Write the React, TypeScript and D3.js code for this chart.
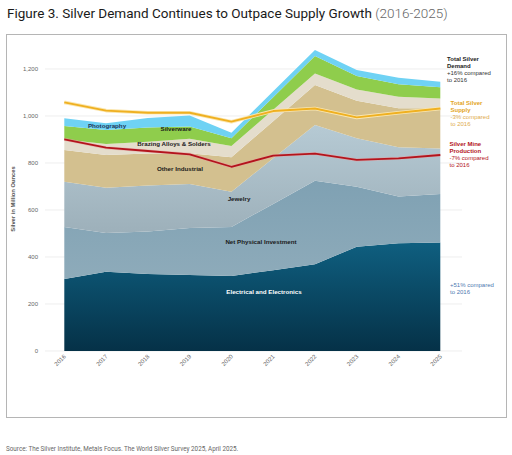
import React from "react";
import * as d3 from "d3";

const years = [2016, 2017, 2018, 2019, 2020, 2021, 2022, 2023, 2024, 2025];
const electrical = [306, 337, 328, 323, 319, 344, 369, 444, 458, 462];
const netPhysical = [222, 165, 180, 200, 209, 282, 356, 255, 199, 206];
const jewelry = [192, 193, 196, 188, 150, 194, 237, 206, 210, 194];
const otherIndustrial = [135, 139, 136, 130, 146, 158, 170, 160, 166, 171];
const brazing = [45, 47, 50, 62, 48, 49, 49, 48, 49, 42];
const silverware = [57, 59, 61, 52, 33, 53, 74, 57, 53, 47];
const photography = [33, 29, 40, 47, 24, 25, 26, 26, 28, 24];
const totalSupply = [1058, 1023, 1014, 1014, 976, 1021, 1032, 994, 1014, 1032];
const mineProduction = [901, 865, 851, 837, 784, 831, 840, 813, 820, 834];
const yTicks = [0, 200, 400, 600, 800, 1000, 1200];

const seriesKeys = [
  "Electrical and Electronics",
  "Net Physical Investment",
  "Jewelry",
  "Other Industrial",
  "Brazing Alloys & Solders",
  "Silverware",
  "Photography",
];
const seriesValues = [electrical, netPhysical, jewelry, otherIndustrial, brazing, silverware, photography];
const fills = [
  "url(#gElec)",
  "url(#gNpi)",
  "url(#gJew)",
  "#d3c08f",
  "#e4ddcc",
  "#8fcd4c",
  "#6fd2f4",
];

export default function App() {
  const x = d3.scaleLinear().domain([2016, 2025]).range([64.3, 440.3]);
  const y = d3.scaleLinear().domain([0, 1200]).range([351, 69]);

  const rows = years.map((yr, i) => {
    const r: any = { year: yr };
    seriesKeys.forEach((k, j) => (r[k] = seriesValues[j][i]));
    return r;
  });
  const stacked = d3.stack<any>().keys(seriesKeys)(rows);
  const area = d3
    .area<any>()
    .x((d) => x(d.data.year))
    .y0((d) => y(d[0]))
    .y1((d) => y(d[1]));
  const line = d3
    .line<number>()
    .x((_, i) => x(years[i]))
    .y((d) => y(d));

  const font = "Liberation Sans, Arial, sans-serif";
  const areaLabels = [
    { t: "Photography", x: 107, y: 128, c: "#1d3557", w: "bold" },
    { t: "Silverware", x: 176, y: 131, c: "#1a1a1a", w: "bold" },
    { t: "Brazing Alloys & Solders", x: 174, y: 146, c: "#1a1a1a", w: "bold" },
    { t: "Other Industrial", x: 180, y: 171, c: "#1a1a1a", w: "bold" },
    { t: "Jewelry", x: 239, y: 201, c: "#1a1a1a", w: "bold" },
    { t: "Net Physical Investment", x: 261, y: 244, c: "#1a1a1a", w: "bold" },
    { t: "Electrical and Electronics", x: 264, y: 294, c: "#ffffff", w: "bold" },
  ];

  const notes = [
    { x: 447, y: 61, lines: [["Total Silver", "bold", "#222"], ["Demand", "bold", "#222"], ["+16% compared", "normal", "#333"], ["to 2016", "normal", "#333"]] },
    { x: 450.5, y: 104.5, lines: [["Total Silver", "bold", "#e3a51e"], ["Supply", "bold", "#e3a51e"], ["-3% compared", "normal", "#e0ac4e"], ["to 2016", "normal", "#e0ac4e"]] },
    { x: 449.5, y: 145.5, lines: [["Silver Mine", "bold", "#b3141c"], ["Production", "bold", "#b3141c"], ["-7% compared", "normal", "#b3141c"], ["to 2016", "normal", "#b3141c"]] },
    { x: 450, y: 287, lines: [["+51% compared", "normal", "#5079b0"], ["to 2016", "normal", "#5079b0"]] },
  ];

  return (
    <svg width={512} height={455} style={{ position: "absolute", left: 0, top: 0, background: "#fff" }}>
      <defs>
        <linearGradient id="gElec" x1="0" y1="0" x2="0" y2="1">
          <stop offset="0" stopColor="#0f5f80" />
          <stop offset="1" stopColor="#053147" />
        </linearGradient>
        <linearGradient id="gNpi" x1="0" y1="0" x2="0" y2="1">
          <stop offset="0" stopColor="#7fa1b3" />
          <stop offset="1" stopColor="#8eabba" />
        </linearGradient>
        <linearGradient id="gJew" x1="0" y1="0" x2="0" y2="1">
          <stop offset="0" stopColor="#b6cad4" />
          <stop offset="1" stopColor="#9db0ba" />
        </linearGradient>
      </defs>
      <text x={7} y={18} fontFamily="Roboto, sans-serif" fontSize={13.5} fill="#1a1a1a" fontWeight={400}>
        Figure 3. Silver Demand Continues to Outpace Supply Growth
        <tspan fill="#666" fontWeight={300}> (2016-2025)</tspan>
      </text>
      <rect x={6.5} y={34.5} width={500} height={383} fill="#fff" stroke="#b5b5b5" strokeWidth={1} />
      {yTicks.map((t) => (
        <g key={t}>
          <line x1={45} x2={462} y1={y(t)} y2={y(t)} stroke="#e6e6e6" strokeWidth={0.7} />
          <text x={38} y={y(t) + 2} textAnchor="end" fontFamily={font} fontSize={6} fill="#666">
            {d3.format(",")(t)}
          </text>
        </g>
      ))}
      <text
        transform={`translate(15,199) rotate(-90)`}
        textAnchor="middle"
        fontFamily={font}
        fontSize={5.8}
        fill="#555"
        fontWeight="bold"
      >
        Silver in Million Ounces
      </text>
      {stacked.map((s, i) => (
        <path key={s.key} d={area(s) || ""} fill={fills[i]} />
      ))}
      <path d={line(totalSupply) || ""} fill="none" stroke="#fbe7b0" strokeWidth={3.6} strokeLinejoin="round" />
      <path d={line(totalSupply) || ""} fill="none" stroke="#efb021" strokeWidth={1.9} strokeLinejoin="round" />
      <path d={line(mineProduction) || ""} fill="none" stroke="#e8a0a0" strokeWidth={3} strokeLinejoin="round" opacity={0.6} />
      <path d={line(mineProduction) || ""} fill="none" stroke="#b3141c" strokeWidth={1.8} strokeLinejoin="round" />
      {years.map((yr) => (
        <text
          key={yr}
          transform={`translate(${x(yr) + 2},${357}) rotate(-45)`}
          textAnchor="end"
          fontFamily={font}
          fontSize={6}
          fill="#666"
        >
          {yr}
        </text>
      ))}
      {areaLabels.map((l) => (
        <text key={l.t} x={l.x} y={l.y} textAnchor="middle" fontFamily={font} fontSize={6.2} fill={l.c} fontWeight={l.w}>
          {l.t}
        </text>
      ))}
      {notes.map((n, i) => (
        <text key={i} fontFamily={font} fontSize={6} x={n.x} y={n.y}>
          {n.lines.map((ln, j) => (
            <tspan key={j} x={n.x} y={n.y + j * 7} fill={ln[2]} fontWeight={ln[1]}>
              {ln[0]}
            </tspan>
          ))}
        </text>
      ))}
      <text x={6} y={451} fontFamily="Roboto, sans-serif" fontSize={6.3} fill="#666">
        Source: The Silver Institute, Metals Focus. The World Silver Survey 2025, April 2025.
      </text>
    </svg>
  );
}
